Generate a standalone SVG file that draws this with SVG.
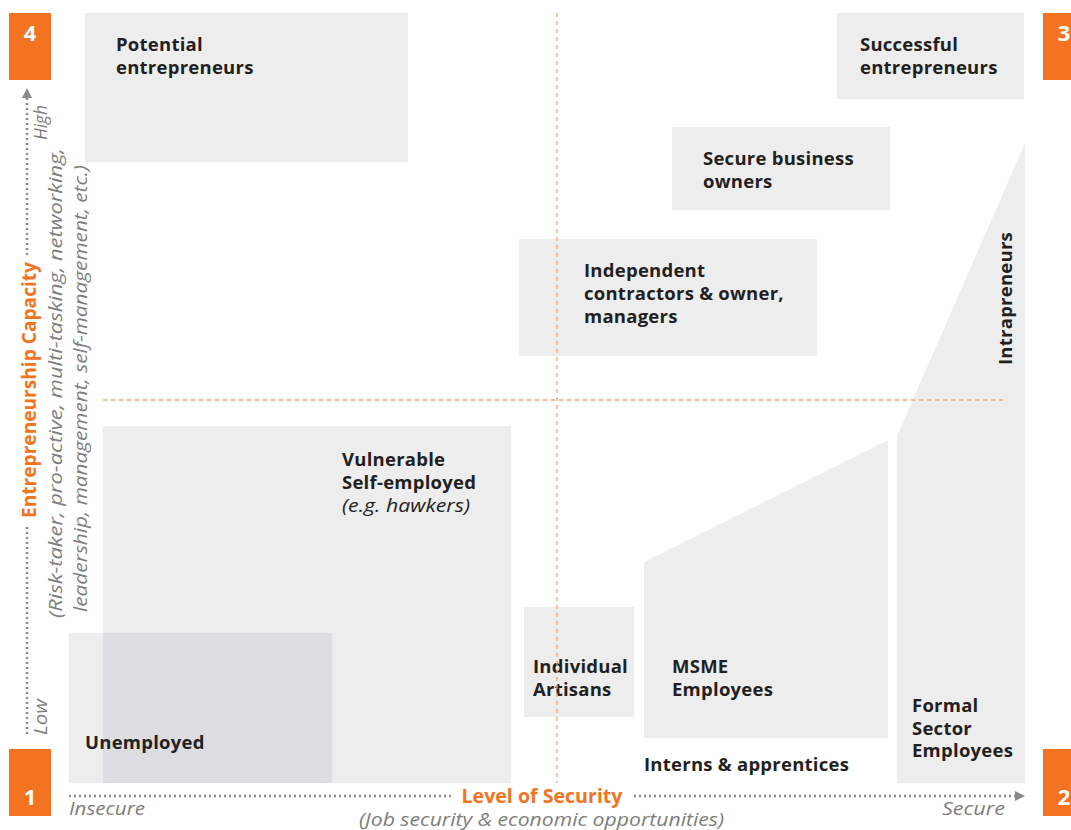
<svg xmlns="http://www.w3.org/2000/svg" width="1071" height="830" viewBox="0 0 1071 830">
<style>
.box{fill:#ededed}
.ov{fill:#dcdde0}
.lbl{font-family:"Open Sans","Liberation Sans",sans-serif;font-weight:700;font-size:18.5px;letter-spacing:0.25px;fill:#231f20}
.it{font-family:"Open Sans","Liberation Sans",sans-serif;font-style:italic;font-weight:400;font-size:19px;fill:#231f20}
.num{font-family:"Open Sans","Liberation Sans",sans-serif;font-weight:700;font-size:22px;fill:#fff}
.badge{fill:#f47321}
.ax{font-family:"Open Sans","Liberation Sans",sans-serif;font-style:italic;font-size:19px;fill:#7d7d7d}
.axt{font-family:"Open Sans","Liberation Sans",sans-serif;font-weight:700;font-size:19px;fill:#f47321}
.dot{stroke:#8a8a8a;stroke-width:2.5;stroke-dasharray:2 3;fill:none}
.dash{stroke:#f4a46a;stroke-width:1.3;stroke-dasharray:4 4;fill:none}
</style>
<defs>
<marker id="arr" viewBox="0 0 10 10" refX="0" refY="5" markerWidth="10" markerHeight="10" markerUnits="userSpaceOnUse" orient="auto">
<path d="M0,0 L10,5 L0,10 Z" fill="#8a8a8a"/>
</marker>
</defs>

<g id="potential-entrepreneurs">
<rect class="box" x="85" y="13" width="323" height="149"/>
<text class="lbl" x="116" y="51">Potential</text>
<text class="lbl" x="116" y="74">entrepreneurs</text>
</g>
<g id="successful-entrepreneurs">
<rect class="box" x="837" y="13" width="187" height="86"/>
<text class="lbl" x="860" y="51">Successful</text>
<text class="lbl" x="860" y="74">entrepreneurs</text>
</g>
<g id="secure-business-owners">
<rect class="box" x="672" y="127" width="218" height="83"/>
<text class="lbl" x="703" y="165">Secure business</text>
<text class="lbl" x="703" y="188">owners</text>
</g>
<g id="independent-contractors">
<rect class="box" x="519" y="239" width="298" height="117"/>
<text class="lbl" x="584" y="277">Independent</text>
<text class="lbl" x="584" y="300">contractors &amp; owner,</text>
<text class="lbl" x="584" y="323">managers</text>
</g>
<g id="vulnerable-self-employed">
<rect class="box" x="103" y="426" width="408" height="357"/>
<text class="lbl" x="342" y="466">Vulnerable</text>
<text class="lbl" x="342" y="489">Self-employed</text>
<text class="it" x="342" y="512" textLength="128" lengthAdjust="spacingAndGlyphs">(e.g. hawkers)</text>
</g>
<g id="unemployed">
<rect class="box" x="69" y="633" width="263" height="150"/>
<rect class="ov" x="103" y="633" width="229" height="150"/>
<text class="lbl" x="85" y="749">Unemployed</text>
</g>
<g id="individual-artisans">
<rect class="box" x="524" y="607" width="110" height="110"/>
<text class="lbl" x="533" y="673">Individual</text>
<text class="lbl" x="533" y="696">Artisans</text>
</g>
<g id="msme-employees">
<polygon class="box" points="644,562 888,440 888,738 644,738"/>
<text class="lbl" x="672" y="673">MSME</text>
<text class="lbl" x="672" y="696">Employees</text>
</g>
<g id="interns-apprentices">
<text class="lbl" x="644" y="771">Interns &amp; apprentices</text>
</g>
<g id="formal-sector-employees">
<polygon class="box" points="897,783 897,436 1025,143 1025,783"/>
<text class="lbl" x="912" y="712">Formal</text>
<text class="lbl" x="912" y="735">Sector</text>
<text class="lbl" x="912" y="757">Employees</text>
</g>
<g id="intrapreneurs">
<text class="lbl" transform="translate(1012,365) rotate(-90)">Intrapreneurs</text>
</g>

<g id="connectors">
<line class="dash" x1="557" y1="13" x2="557" y2="783"/>
<line class="dash" x1="103" y1="400" x2="1005" y2="400"/>
<line class="dot" x1="69" y1="796" x2="452" y2="796"/>
<line class="dot" x1="634" y1="796" x2="1015" y2="796" marker-end="url(#arr)"/>
<line class="dot" x1="27" y1="734" x2="27" y2="526"/>
<line class="dot" x1="27" y1="255" x2="27" y2="98" marker-end="url(#arr)"/>
</g>

<g id="axis-x">
<text class="axt" x="542" y="803" text-anchor="middle" textLength="161" lengthAdjust="spacingAndGlyphs">Level of Security</text>
<text class="ax" x="69" y="815" textLength="76" lengthAdjust="spacingAndGlyphs">Insecure</text>
<text class="ax" x="942" y="815" textLength="63" lengthAdjust="spacingAndGlyphs">Secure</text>
<text class="ax" x="359" y="826" textLength="365" lengthAdjust="spacingAndGlyphs">(Job security &amp; economic opportunities)</text>
</g>
<g id="axis-y">
<text class="axt" transform="translate(36,390) rotate(-90)" text-anchor="middle" textLength="256" lengthAdjust="spacingAndGlyphs">Entrepreneurship Capacity</text>
<text class="ax" transform="translate(62,618) rotate(-90)" textLength="470" lengthAdjust="spacingAndGlyphs">(Risk-taker, pro-active, multi-tasking, networking,</text>
<text class="ax" transform="translate(87,612) rotate(-90)" textLength="447" lengthAdjust="spacingAndGlyphs">leadership, management, self-management, etc.)</text>
<text class="ax" transform="translate(47,140) rotate(-90)" textLength="35" lengthAdjust="spacingAndGlyphs">High</text>
<text class="ax" transform="translate(47,735) rotate(-90)" textLength="36" lengthAdjust="spacingAndGlyphs">Low</text>
</g>

<g id="badge-4"><rect class="badge" x="9" y="13" width="42" height="67"/><text class="num" x="30" y="41" text-anchor="middle">4</text></g>
<g id="badge-3"><rect class="badge" x="1043" y="13" width="42" height="67"/><text class="num" x="1064" y="41" text-anchor="middle">3</text></g>
<g id="badge-1"><rect class="badge" x="9" y="749" width="42" height="67"/><text class="num" x="30" y="805" text-anchor="middle">1</text></g>
<g id="badge-2"><rect class="badge" x="1043" y="749" width="42" height="67"/><text class="num" x="1064" y="805" text-anchor="middle">2</text></g>
</svg>
